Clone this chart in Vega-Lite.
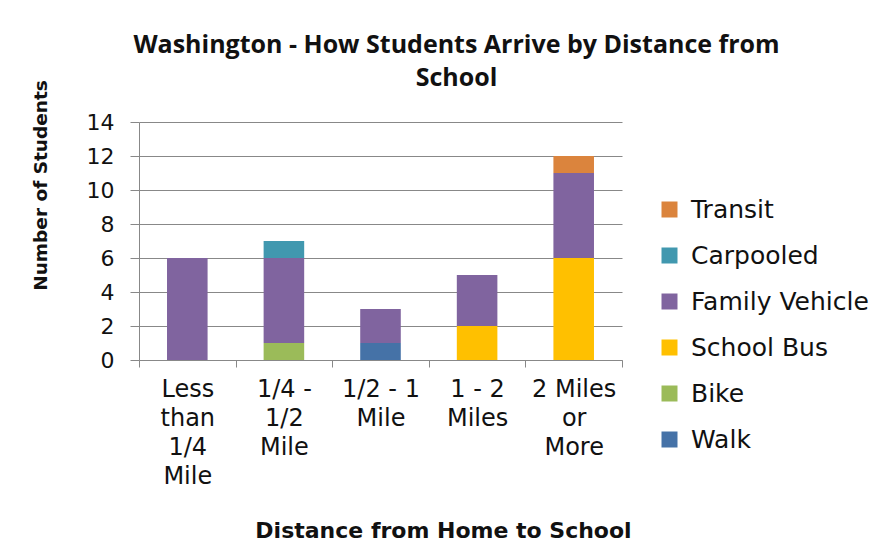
{
  "$schema": "https://vega.github.io/schema/vega-lite/v6.json",
  "width": 483,
  "height": 238,
  "autosize": {"type": "none"},
  "padding": {"left": 139, "top": 122, "right": 273, "bottom": 182},
  "background": "white",
  "title": {
    "text": ["Washington - How Students Arrive by Distance from", "School"],
    "font": "Open Sans",
    "fontSize": 25,
    "fontWeight": "bold",
    "color": "#111111",
    "anchor": "middle",
    "frame": "group",
    "dx": 76,
    "lineHeight": 33,
    "offset": -11
  },
  "data": {
    "values": [
      {"distance": "Less|than|1/4|Mile", "mode": "Family Vehicle", "count": 6},
      {"distance": "1/4 -|1/2|Mile", "mode": "Bike", "count": 1},
      {"distance": "1/4 -|1/2|Mile", "mode": "Family Vehicle", "count": 5},
      {"distance": "1/4 -|1/2|Mile", "mode": "Carpooled", "count": 1},
      {"distance": "1/2 - 1|Mile", "mode": "Walk", "count": 1},
      {"distance": "1/2 - 1|Mile", "mode": "Family Vehicle", "count": 2},
      {"distance": "1 - 2|Miles", "mode": "School Bus", "count": 2},
      {"distance": "1 - 2|Miles", "mode": "Family Vehicle", "count": 3},
      {"distance": "2 Miles|or|More", "mode": "School Bus", "count": 6},
      {"distance": "2 Miles|or|More", "mode": "Family Vehicle", "count": 5},
      {"distance": "2 Miles|or|More", "mode": "Transit", "count": 1}
    ]
  },
  "transform": [
    {"calculate": "indexof(['Walk','Bike','School Bus','Family Vehicle','Carpooled','Transit'], datum.mode)", "as": "order"}
  ],
  "mark": {"type": "bar", "width": {"band": 0.42}},
  "encoding": {
    "x": {
      "field": "distance",
      "type": "nominal",
      "sort": ["Less|than|1/4|Mile", "1/4 -|1/2|Mile", "1/2 - 1|Mile", "1 - 2|Miles", "2 Miles|or|More"],
      "scale": {"paddingInner": 0, "paddingOuter": 0},
      "axis": {
        "title": "Distance from Home to School",
        "titleFont": "DejaVu Sans",
        "titleFontSize": 22,
        "titleFontWeight": "bold",
        "titleColor": "#111111",
        "titleX": 304,
        "titleY": 170,
        "titleBaseline": "middle",
        "labelAngle": 0,
        "labelExpr": "isValid(datum.value) ? split(datum.value, '|') : ''",
        "labelFont": "DejaVu Sans",
        "labelFontSize": 24,
        "labelColor": "#111111",
        "labelLineHeight": 29,
        "labelBaseline": "top",
        "labelPadding": 10,
        "tickBand": "extent",
        "tickSize": 7,
        "tickColor": "#888888",
        "domainColor": "#888888",
        "grid": false
      }
    },
    "y": {
      "field": "count",
      "type": "quantitative",
      "stack": "zero",
      "scale": {"domain": [0, 14], "nice": false},
      "axis": {
        "values": [0, 2, 4, 6, 8, 10, 12, 14],
        "title": "Number of Students",
        "titleFont": "DejaVu Sans",
        "titleFontSize": 18.5,
        "titleFontWeight": "bold",
        "titleColor": "#111111",
        "titleX": -99,
        "titleY": 63,
        "titleAngle": -90,
        "titleAlign": "center",
        "titleBaseline": "middle",
        "labelFont": "DejaVu Sans",
        "labelFontSize": 22,
        "labelColor": "#111111",
        "labelPadding": 16,
        "tickSize": 9,
        "tickColor": "#888888",
        "domainColor": "#888888",
        "gridColor": "#888888",
        "gridWidth": 1
      }
    },
    "color": {
      "field": "mode",
      "type": "nominal",
      "scale": {
        "domain": ["Transit", "Carpooled", "Family Vehicle", "School Bus", "Bike", "Walk"],
        "range": ["#DB843D", "#4198AF", "#80649F", "#FFC000", "#9BBB59", "#4572A7"]
      },
      "legend": {
        "title": null,
        "orient": "none",
        "legendX": 518,
        "legendY": 75,
        "symbolType": "square",
        "symbolSize": 256,
        "symbolStrokeWidth": 0,
        "labelFont": "DejaVu Sans",
        "labelFontSize": 25,
        "labelColor": "#111111",
        "labelOffset": 9,
        "rowPadding": 20,
        "labelLimit": 300
      }
    },
    "order": {"field": "order", "type": "quantitative"}
  },
  "config": {
    "view": {"stroke": null}
  }
}
